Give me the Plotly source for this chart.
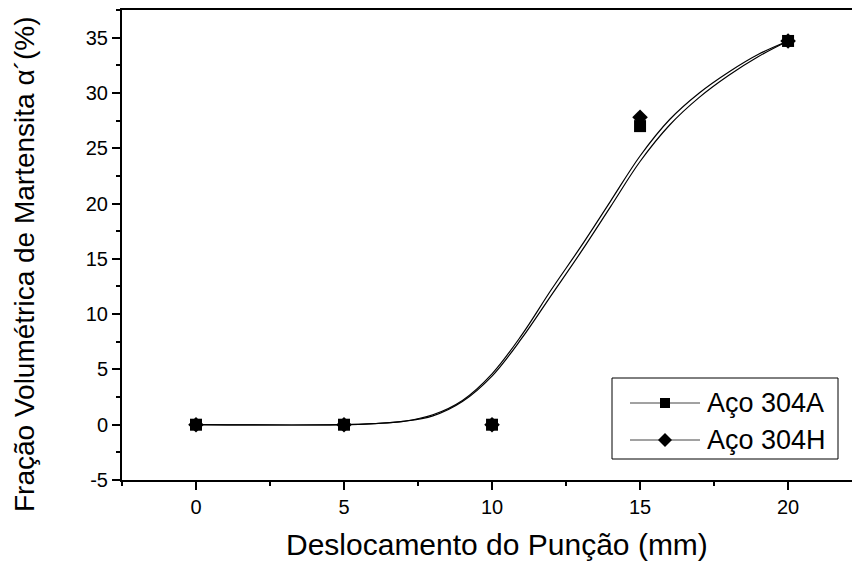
import plotly.graph_objects as go

# measured points
x_pts = [0, 5, 10, 15, 20]
aco_304a = [0, 0, 0, 27.0, 34.7]
aco_304h = [0, 0, 0, 27.8, 34.7]

# fitted curves
x_fit = [0, 5, 6, 7, 8, 9, 10, 11, 12, 13, 14, 15, 16, 17, 18, 19, 20]
fit_304a = [0, 0, 0.1, 0.3, 0.8, 2.1, 4.4, 7.8, 11.7, 15.6, 19.7, 23.8, 27.1, 29.6, 31.6, 33.3, 34.7]
fit_304h = [0, 0, 0.1, 0.3, 0.9, 2.2, 4.6, 8.1, 12.2, 16.1, 20.2, 24.3, 27.6, 30.0, 31.9, 33.5, 34.7]

x_ticks = [0, 5, 10, 15, 20]
y_ticks = [-5, 0, 5, 10, 15, 20, 25, 30, 35]
y_ticktext = ["-5", "0", "5", "10", "15", "20", "25", "30", "35"]
series_names = ["Aço 304A", "Aço 304H"]
x_title = "Deslocamento do Punção (mm)"
y_title = "Fração Volumétrica de Martensita α´(%)"

W, H = 852, 563
ML, MR, MT, MB = 122, 0, 10, 83
PW, PH = W - ML - MR, H - MT - MB

fig = go.Figure()

# curves
for yy in [fit_304a, fit_304h]:
    fig.add_trace(go.Scatter(
        x=x_fit, y=yy, mode="lines", line=dict(color="black", width=1.2, shape="spline"),
        showlegend=False, hoverinfo="skip"))

# markers
fig.add_trace(go.Scatter(x=x_pts, y=aco_304a, mode="markers", name=series_names[0],
                         marker=dict(symbol="square", size=12, color="black"),
                         showlegend=False))
fig.add_trace(go.Scatter(x=x_pts, y=aco_304h, mode="markers", name=series_names[1],
                         marker=dict(symbol="diamond", size=12, color="black"),
                         showlegend=False))


# pixel -> paper helpers for the hand-made legend and titles
def px(x):
    return (x - ML) / PW


def py(y):
    return (MT + PH - y) / PH


shapes = [dict(type="rect", xref="paper", yref="paper",
               x0=px(612), x1=px(838), y0=py(459), y1=py(378),
               line=dict(color="black", width=1), fillcolor="white", layer="above")]
annotations = []
for i, name in enumerate(series_names):
    cy = 403 + i * 37
    shapes.append(dict(type="line", xref="paper", yref="paper",
                       x0=px(630), x1=px(700), y0=py(cy), y1=py(cy),
                       line=dict(color="#444", width=1), layer="above"))
    if i == 0:
        shapes.append(dict(type="rect", xref="paper", yref="paper",
                           x0=px(660), x1=px(670), y0=py(cy + 5), y1=py(cy - 5),
                           line=dict(width=0), fillcolor="black", layer="above"))
    else:
        shapes.append(dict(type="path", xref="paper", yref="paper",
                           path="M {a},{m} L {c},{t} L {b},{m} L {c},{bt} Z".format(
                               a=px(658), b=px(672), c=px(665), m=py(cy), t=py(cy - 7), bt=py(cy + 7)),
                           line=dict(width=0), fillcolor="black", layer="above"))
    annotations.append(dict(text=name, xref="paper", yref="paper", x=px(705), y=py(cy),
                            xanchor="left", yanchor="middle", showarrow=False,
                            font=dict(size=27, color="black")))

# axis titles
annotations.append(dict(text=x_title, xref="paper", yref="paper", x=px(497), y=py(544),
                        xanchor="center", yanchor="middle", showarrow=False,
                        font=dict(size=30, color="black")))
annotations.append(dict(text=y_title, xref="paper", yref="paper", x=px(24), y=py(265),
                        xanchor="center", yanchor="middle", showarrow=False, textangle=-90,
                        font=dict(size=28, color="black")))

axis_font = dict(family="Liberation Sans, Arial", size=20, color="black")

fig.update_layout(
    width=W, height=H,
    margin=dict(l=ML, r=MR, t=MT, b=MB),
    paper_bgcolor="white", plot_bgcolor="white",
    font=dict(family="Liberation Sans, Arial", color="black"),
    shapes=shapes, annotations=annotations,
    xaxis=dict(
        range=[-2.5, 22.16], tickvals=x_ticks, automargin=False,
        showline=True, linecolor="black", linewidth=2, mirror=True,
        ticks="outside", ticklen=8, tickwidth=1.5, tickcolor="black",
        minor=dict(tickvals=[-2.5, 2.5, 7.5, 12.5, 17.5], ticks="outside", ticklen=4,
                   tickwidth=1.5, tickcolor="black"),
        showgrid=False, zeroline=False, tickfont=axis_font,
    ),
    yaxis=dict(
        range=[-5, 37.5], tickvals=y_ticks, ticktext=y_ticktext, automargin=False,
        showline=True, linecolor="black", linewidth=2,
        ticks="outside", ticklen=8, tickwidth=1.5, tickcolor="black",
        minor=dict(tickvals=[-2.5, 2.5, 7.5, 12.5, 17.5, 22.5, 27.5, 32.5, 37.5],
                   ticks="outside", ticklen=4, tickwidth=1.5, tickcolor="black"),
        showgrid=False, zeroline=False, tickfont=axis_font,
    ),
)

# remove the default page margin so the figure sits at the window's top-left corner
fig.write_html("out.html", config={"displayModeBar": False},
               post_script="document.body.style.margin='0';")
